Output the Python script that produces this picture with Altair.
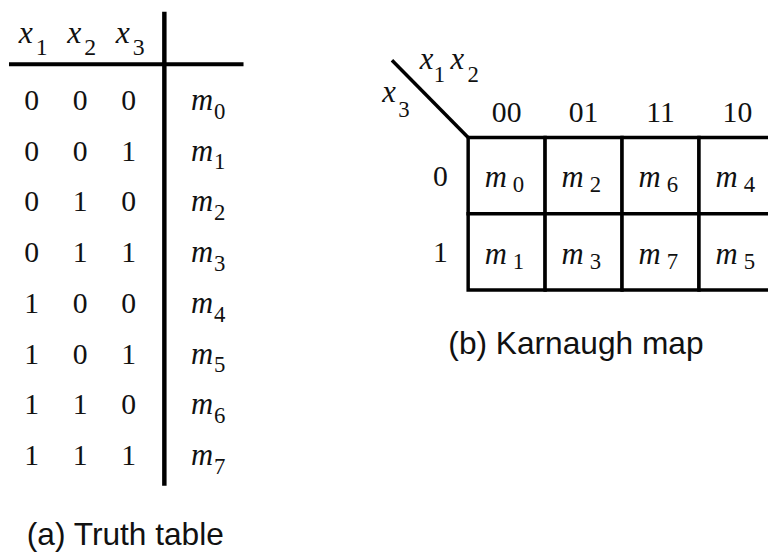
import altair as alt
import pandas as pd

# ---------------- data ----------------
var_subs = ["1", "2", "3"]                 # x1 x2 x3 header subscripts
row_index = [0, 1, 2, 3, 4, 5, 6, 7]       # minterm index m0..m7
x1_vals = [0, 0, 0, 0, 1, 1, 1, 1]
x2_vals = [0, 0, 1, 1, 0, 0, 1, 1]
x3_vals = [0, 1, 0, 1, 0, 1, 0, 1]
kmap_col_labels = ["00", "01", "11", "10"]
kmap_row_labels = ["0", "1"]
kmap_minterms = [[0, 2, 6, 4], [1, 3, 7, 5]]
caption_a = "(a) Truth table"
caption_b = "(b) Karnaugh map"

# ---------------- tables built from the data ----------------
bits = pd.DataFrame(
    [{"row": r, "col": c, "bit": str(v)}
     for c, col in enumerate([x1_vals, x2_vals, x3_vals])
     for r, v in zip(row_index, col)]
)
header = pd.DataFrame({"col": [0, 1, 2], "sub": var_subs, "letter": ["x", "x", "x"]})
mlab = pd.DataFrame({"row": row_index, "m": ["m"] * 8, "sub": [str(i) for i in row_index]})
cells = pd.DataFrame(
    [{"c0": c, "c1": c + 1, "r0": r, "r1": r + 1, "cx": c + 0.5, "cy": r + 0.5,
      "m": "m", "sub": str(kmap_minterms[r][c])}
     for r in range(len(kmap_row_labels)) for c in range(len(kmap_col_labels))]
)
colhead = pd.DataFrame({"cx": [i + 0.5 for i in range(4)], "lab": kmap_col_labels})
rowhead = pd.DataFrame({"cy": [i + 0.5 for i in range(2)], "lab": kmap_row_labels})
one = pd.DataFrame({"k": [0]})
cap_a = pd.DataFrame({"t": [caption_a]})
cap_b = pd.DataFrame({"t": [caption_b]})

# ---------------- layout (scale ranges, chart px = page px - 8) ----------------
SERIF = "'Liberation Serif', 'Times New Roman', Times, serif"
SANS = "'Liberation Sans', Arial, Helvetica, sans-serif"
INK = "#111111"

def tt_x():
    return alt.X("col:Q", scale=alt.Scale(domain=[0, 2], range=[24, 122]), axis=None)

def tt_y():
    return alt.Y("row:Q", scale=alt.Scale(domain=[0, 7], range=[100, 459]), axis=None)

KX = alt.Scale(domain=[0, 4], range=[465, 776])
KY = alt.Scale(domain=[0, 2], range=[128, 282])
PX = alt.Scale(domain=[0, 768], range=[0, 768])
PY = alt.Scale(domain=[0, 548], range=[0, 548])

layers = []

# truth table bits
layers.append(alt.Chart(bits).mark_text(font=SERIF, fontSize=30, color=INK, baseline="alphabetic")
              .encode(x=tt_x(), y=tt_y(), text="bit:N"))
# header x_i
layers.append(alt.Chart(header).mark_text(font=SERIF, fontSize=32, fontStyle="italic", color=INK,
                                          baseline="alphabetic", dx=-6)
              .encode(x=tt_x(), y=alt.value(32), text="letter:N"))
layers.append(alt.Chart(header).mark_text(font=SERIF, fontSize=24, color=INK,
                                          baseline="alphabetic", dx=10)
              .encode(x=tt_x(), y=alt.value(45), text="sub:N"))
# minterm labels in the table
layers.append(alt.Chart(mlab).mark_text(font=SERIF, fontSize=31, fontStyle="italic", color=INK,
                                        baseline="alphabetic")
              .encode(x=alt.value(196), y=tt_y(), text="m:N"))
layers.append(alt.Chart(mlab).mark_text(font=SERIF, fontSize=23, color=INK,
                                        baseline="alphabetic", dy=9)
              .encode(x=alt.value(214), y=tt_y(), text="sub:N"))
# table rules
layers.append(alt.Chart(one).mark_rule(color="#000", strokeWidth=4)
              .encode(x=alt.value(1), x2=alt.value(238), y=alt.value(54)))
layers.append(alt.Chart(one).mark_rule(color="#000", strokeWidth=4.5)
              .encode(x=alt.value(158), y=alt.value(1), y2=alt.value(480)))
# caption a
layers.append(alt.Chart(cap_a).mark_text(font=SANS, fontSize=32, color=INK, align="left",
                                         baseline="alphabetic")
              .encode(x=alt.value(19), y=alt.value(540), text="t:N"))

# Karnaugh map cells
layers.append(alt.Chart(cells).mark_rect(fill="white", stroke="#000", strokeWidth=3.5)
              .encode(x=alt.X("c0:Q", scale=KX, axis=None), x2="c1:Q",
                      y=alt.Y("r0:Q", scale=KY, axis=None), y2="r1:Q"))
layers.append(alt.Chart(cells).mark_text(font=SERIF, fontSize=31, fontStyle="italic", color=INK,
                                         baseline="alphabetic", dx=-11, dy=12)
              .encode(x=alt.X("cx:Q", scale=KX, axis=None), y=alt.Y("cy:Q", scale=KY, axis=None),
                      text="m:N"))
layers.append(alt.Chart(cells).mark_text(font=SERIF, fontSize=23, color=INK,
                                         baseline="alphabetic", dx=12, dy=17)
              .encode(x=alt.X("cx:Q", scale=KX, axis=None), y=alt.Y("cy:Q", scale=KY, axis=None),
                      text="sub:N"))
layers.append(alt.Chart(colhead).mark_text(font=SERIF, fontSize=30, color=INK, baseline="alphabetic")
              .encode(x=alt.X("cx:Q", scale=KX, axis=None), y=alt.value(112), text="lab:N"))
layers.append(alt.Chart(rowhead).mark_text(font=SERIF, fontSize=30, color=INK, baseline="alphabetic",
                                           dy=10)
              .encode(x=alt.value(437), y=alt.Y("cy:Q", scale=KY, axis=None), text="lab:N"))
# diagonal corner line
layers.append(alt.Chart(one).mark_rule(color="#000", strokeWidth=3.5)
              .encode(x=alt.value(388), y=alt.value(50), x2=alt.value(465), y2=alt.value(128)))
# x1x2 and x3 corner labels
corner = pd.DataFrame({"letter": ["x", "x", "x"], "sub": ["1", "2", "3"],
                       "lx": [423, 454, 385], "ly": [59, 59, 92],
                       "sx": [436, 470, 400], "sy": [72, 72, 107]})
layers.append(alt.Chart(corner).mark_text(font=SERIF, fontSize=31, fontStyle="italic", color=INK,
                                          baseline="alphabetic")
              .encode(x=alt.X("lx:Q", scale=PX, axis=None), y=alt.Y("ly:Q", scale=PY, axis=None),
                      text="letter:N"))
layers.append(alt.Chart(corner).mark_text(font=SERIF, fontSize=23, color=INK, baseline="alphabetic")
              .encode(x=alt.X("sx:Q", scale=PX, axis=None), y=alt.Y("sy:Q", scale=PY, axis=None),
                      text="sub:N"))
# caption b
layers.append(alt.Chart(cap_b).mark_text(font=SANS, fontSize=32, color=INK, align="left",
                                         baseline="alphabetic")
              .encode(x=alt.value(445), y=alt.value(347), text="t:N"))

chart = (
    alt.layer(*layers)
    .resolve_scale(x="independent", y="independent")
    .properties(width=768, height=548, padding=0,
                autosize=alt.AutoSizeParams(type="none"), background="white")
    .configure_view(stroke=None)
)

chart.save("out.html", embed_options={"renderer": "svg", "actions": False})
